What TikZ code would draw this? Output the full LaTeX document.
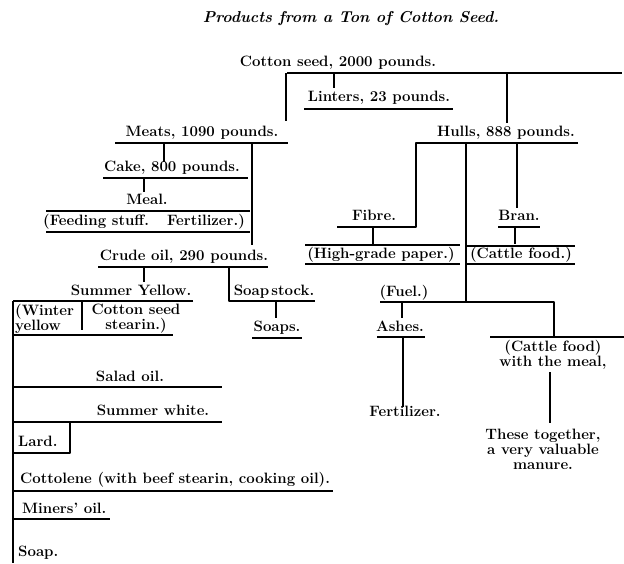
\documentclass[tikz,border=0pt]{standalone}
\usepackage{fontspec}
\begin{document}
\begin{tikzpicture}[x=1pt,y=-1pt,
  lbl/.style={inner sep=0pt, font=\bfseries\fontsize{15}{15}\selectfont, text height=10.5pt, text depth=3pt},
  mlbl/.style={inner sep=0pt, font=\bfseries\fontsize{15}{15}\selectfont, align=center},
  ttl/.style={inner sep=0pt, font=\bfseries\itshape\fontsize{15.8}{16}\selectfont},
  thinl/.style={line width=1.3pt},
  medl/.style={line width=2pt},
  thickl/.style={line width=2.9pt},
  line join=round]
\useasboundingbox (0,0) rectangle (624,563);
% title
\node[ttl] (title) at (351,19) {Products from a Ton of Cotton Seed.};
% texts
\node[lbl] (cotton) at (338,63) {Cotton seed, 2000 pounds.};
\node[lbl] (linters) at (379,98) {Linters, 23 pounds.};
\node[lbl] (meats) at (202,133) {Meats, 1090 pounds.};
\node[lbl] (hulls) at (506,133) {Hulls, 888 pounds.};
\node[lbl] (cake) at (172,168) {Cake, 800 pounds.};
\node[lbl] (meal) at (147,201) {Meal.};
\node[lbl] (feeding) at (144,222) {(Feeding stuff.\hspace{1.2em}Fertilizer.)};
\node[lbl] (crude) at (184,257) {Crude oil, 290 pounds.};
\node[lbl] (sumyel) at (131,292) {Summer Yellow.};
\node[lbl] (soapstock) at (274,292) {Soap\hspace{0.15em}stock.};
\node[mlbl, align=left, anchor=west] (winter) at (15,319) {(Winter\\yellow};
\node[mlbl] (csstearin) at (136,319) {Cotton seed\\stearin.)};
\node[lbl] (soaps) at (277,328) {Soaps.};
\node[lbl] (salad) at (130,378) {Salad oil.};
\node[lbl] (sumwhite) at (153,412) {Summer white.};
\node[lbl, anchor=west] (lard) at (18,443) {Lard.};
\node[lbl, anchor=west] (cottolene) at (20,480) {Cottolene (with beef stearin, cooking oil).};
\node[lbl, anchor=west] (miners) at (22,510) {Miners' oil.};
\node[lbl, anchor=west] (soap) at (18,553) {Soap.};
\node[lbl] (fibre) at (374,217) {Fibre.};
\node[lbl] (bran) at (519,217) {Bran.};
\node[lbl] (highgrade) at (381,255) {(High-grade paper.)};
\node[lbl] (cattle) at (521,255) {(Cattle food.)};
\node[lbl] (fuel) at (404,293) {(Fuel.)};
\node[lbl] (ashes) at (400,328) {Ashes.};
\node[lbl] (fert) at (405,413) {Fertilizer.};
\node[mlbl] (cattlemeal) at (553,355) {(Cattle food)\\with the meal,};
\node[mlbl] (together) at (543,449) {These together,\\a very valuable\\manure.};
% named points
\coordinate (topL) at (287,73);
\coordinate (topM) at (343,73);
\coordinate (topR) at (622,73);
% top connectors
\draw[thinl] (topL) -- (topM);
\draw[thickl] (topM) -- (topR);
\draw[medl] (286,73) -- (286,121);
\draw[thinl] (334,73) -- (334,88);
\draw[medl] (304,109) -- (453,109);
\draw[thickl] (507,73) -- (507,123);
% meats branch
\draw[medl] (115,143) -- (288,143);
\draw[thinl] (164,143) -- (164,162);
\draw[thickl] (252,143) -- (252,245);
\draw[medl] (103,178) -- (248,178);
\draw[thinl] (144,178) -- (144,192);
\draw[medl] (46,211) -- (250,211);
\draw[medl] (46,232) -- (250,232);
\draw[medl] (98,267) -- (268,267);
\draw[thinl] (144,267) -- (144,282);
\draw[medl] (229,267) -- (229,301) -- (315,301);
\draw[thinl] (276,301) -- (276,318);
\draw[medl] (252,338) -- (302,338);
% oil branch
\draw[medl] (193,301) -- (13,301);
\draw[thickl] (13,301) -- (13,563);
\draw[thinl] (82,302) -- (82,330);
\draw[medl] (13,335) -- (173,335);
\draw[medl] (13,387) -- (222,387);
\draw[medl] (13,422) -- (222,422);
\draw[medl] (70,422) -- (70,453) -- (13,453);
\draw[medl] (13,491) -- (333,491);
\draw[medl] (13,519) -- (110,519);
% hulls branch
\draw[thickl] (578,143) -- (416,143) -- (416,227) -- (337,227);
\draw[thickl] (466,143) -- (466,302);
\draw[thickl] (517,143) -- (517,208);
\draw[medl] (498,227) -- (540,227);
\draw[thinl] (515,227) -- (515,244);
\draw[medl] (467,246) -- (575,246);
\draw[medl] (467,264) -- (575,264);
\draw[thinl] (373,227) -- (373,245);
\draw[medl] (305,245) -- (460,245);
\draw[medl] (305,264) -- (460,264);
\draw[thickl] (380,302) -- (554,302) -- (554,337);
\draw[thickl] (490,337) -- (624,337);
\draw[thinl] (402,302) -- (402,318);
\draw[medl] (377,337) -- (425,337);
\draw[thickl] (403,337) -- (403,407);
\draw[thickl] (550,372) -- (550,423);
\end{tikzpicture}
\end{document}
